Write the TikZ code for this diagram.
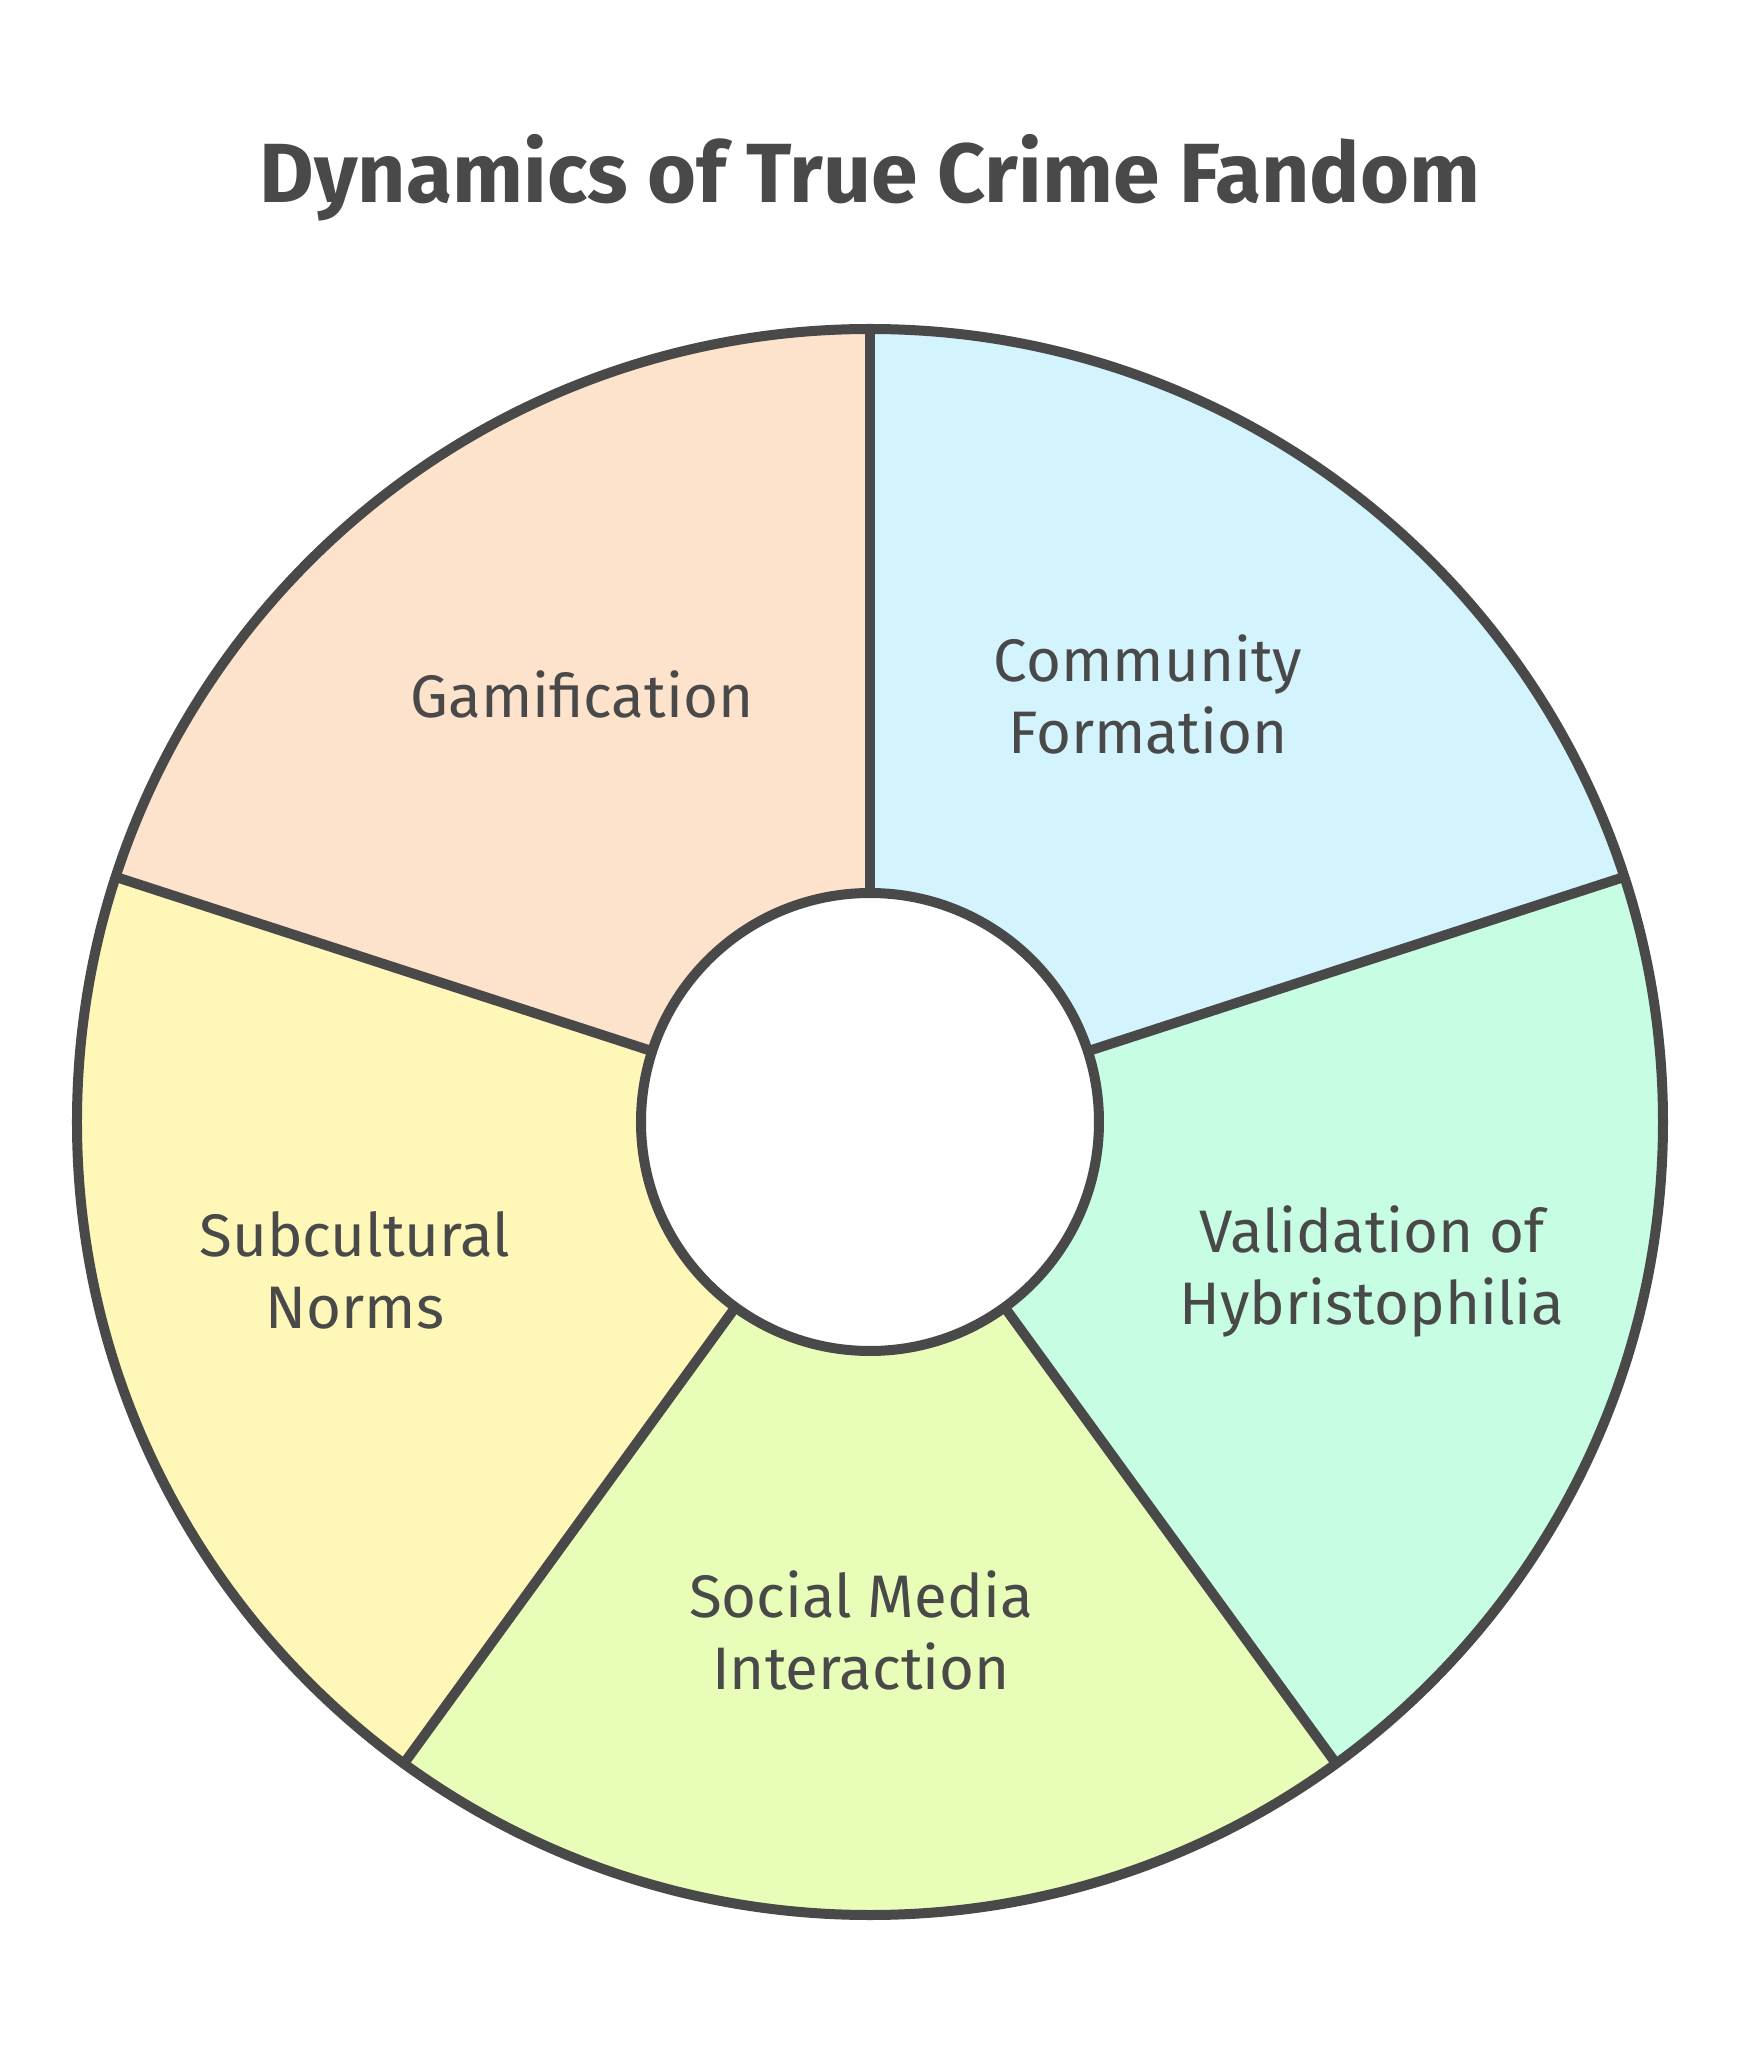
\documentclass[tikz,border=0pt]{standalone}
\usepackage{fontspec}
\setmainfont{Fira Sans}
\usepackage{xcolor}
\usepackage{tikz}
\usetikzlibrary{positioning}

\definecolor{ink}{HTML}{494949}
\definecolor{peach}{HTML}{FDE3CC}
\definecolor{sky}{HTML}{D3F3FD}
\definecolor{mint}{HTML}{C6FDE3}
\definecolor{lime}{HTML}{E8FDB8}
\definecolor{lemon}{HTML}{FEF7B8}

\begin{document}
\begin{tikzpicture}[
        edge/.style={draw=ink, line width=10pt, line cap=round},
        hub/.style={circle, draw=ink, fill=white, line width=10pt,
                    minimum size=458pt, inner sep=0pt},
        lbl/.style={text=ink, align=center,
                    font=\fontsize{60}{72}\selectfont},
        ttl/.style={text=ink, font=\fontsize{84}{96}\selectfont\bfseries},
    ]
        \useasboundingbox (-870pt,-942pt) rectangle (871pt,1122pt);
        % wedges
        \fill[sky]   (0,0) -- (90:793pt)  arc[start angle=90,  end angle=18,   radius=793pt] -- cycle;
        \fill[mint]  (0,0) -- (18:793pt)  arc[start angle=18,  end angle=-54,  radius=793pt] -- cycle;
        \fill[lime]  (0,0) -- (-54:793pt) arc[start angle=-54, end angle=-126, radius=793pt] -- cycle;
        \fill[lemon] (0,0) -- (-126:793pt) arc[start angle=-126, end angle=-198, radius=793pt] -- cycle;
        \fill[peach] (0,0) -- (162:793pt) arc[start angle=162, end angle=90,   radius=793pt] -- cycle;
        \draw[edge] (0,0) circle[radius=793pt];
        % dividers
        \coordinate (o1) at (90:793pt);
        \coordinate (o2) at (18:793pt);
        \coordinate (o3) at (-54:793pt);
        \coordinate (o4) at (-126:793pt);
        \coordinate (o5) at (162:793pt);
        \draw[edge] (0,0) -- (o1);
        \draw[edge] (0,0) -- (o2);
        \draw[edge] (0,0) -- (o3);
        \draw[edge] (0,0) -- (o4);
        \draw[edge] (0,0) -- (o5);
        \node[hub] (hub) at (0,0) {};
        % labels
        \node[lbl] (comm) at (278pt,428pt)   {Community\\Formation};
        \node[lbl] (valid) at (502pt,-149pt) {Validation of\\Hybristophilia};
        \node[lbl] (social) at (-9pt,-508pt) {Social Media\\Interaction};
        \node[lbl] (norms) at (-515pt,-148pt) {Subcultural\\Norms};
        \node[lbl] (game) at (-288pt,428pt)  {Gamification};
        \node[ttl] (title) at (0pt,944pt) {Dynamics of True Crime Fandom};
    \end{tikzpicture}
\end{document}
